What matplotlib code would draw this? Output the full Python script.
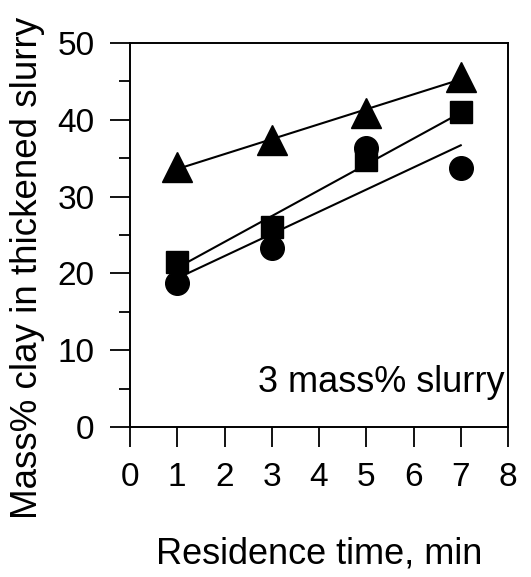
import matplotlib.pyplot as plt
import numpy as np

plt.rcParams['font.family'] = ['Liberation Sans', 'DejaVu Sans']

# residence time, min
time = [1, 3, 5, 7]
# mass% clay in thickened slurry, three series
triangles = [33.8, 37.4, 40.9, 45.6]
squares = [21.5, 26.0, 34.8, 41.0]
circles = [18.8, 23.3, 36.3, 33.7]

fig = plt.figure(figsize=(5.31, 5.77), dpi=100)
ax = fig.add_axes([130 / 531, 1 - 427 / 577, 378 / 531, 384 / 577])

t = np.array(time)
for vals, mk, ms in [(triangles, '^', 21), (squares, 's', 16.5), (circles, 'o', 17)]:
    ax.plot(time, vals, linestyle='none', marker=mk, markersize=ms, color='black', zorder=3)
    # straight-line fit through each series
    k, b = np.polyfit(time, vals, 1)
    ax.plot(t, k * t + b, color='black', linewidth=1.5, zorder=2)

ax.set_xlim(0, 8)
ax.set_ylim(0, 50)
ax.set_xticks(range(0, 9))
ax.set_yticks(range(0, 51, 10))
ax.set_yticks(range(5, 50, 10), minor=True)

ax.tick_params(axis='both', which='major', direction='out', length=14.5, width=1.3,
               labelsize=24, pad=11)
ax.tick_params(axis='y', which='minor', direction='out', length=8, width=1.3)
for sp in ax.spines.values():
    sp.set_linewidth(1.4)

ax.set_xlabel("Residence time, min", fontsize=26)
ax.set_ylabel("Mass% clay in thickened slurry", fontsize=26.5)
ax.xaxis.set_label_coords(0.5, -0.285)
ax.yaxis.set_label_coords(-0.225, 0.415)

ax.text(0.99, 0.09, "3 mass% slurry", transform=ax.transAxes, fontsize=26,
        ha='right', va='baseline')

fig.savefig('out.png', dpi=100)
